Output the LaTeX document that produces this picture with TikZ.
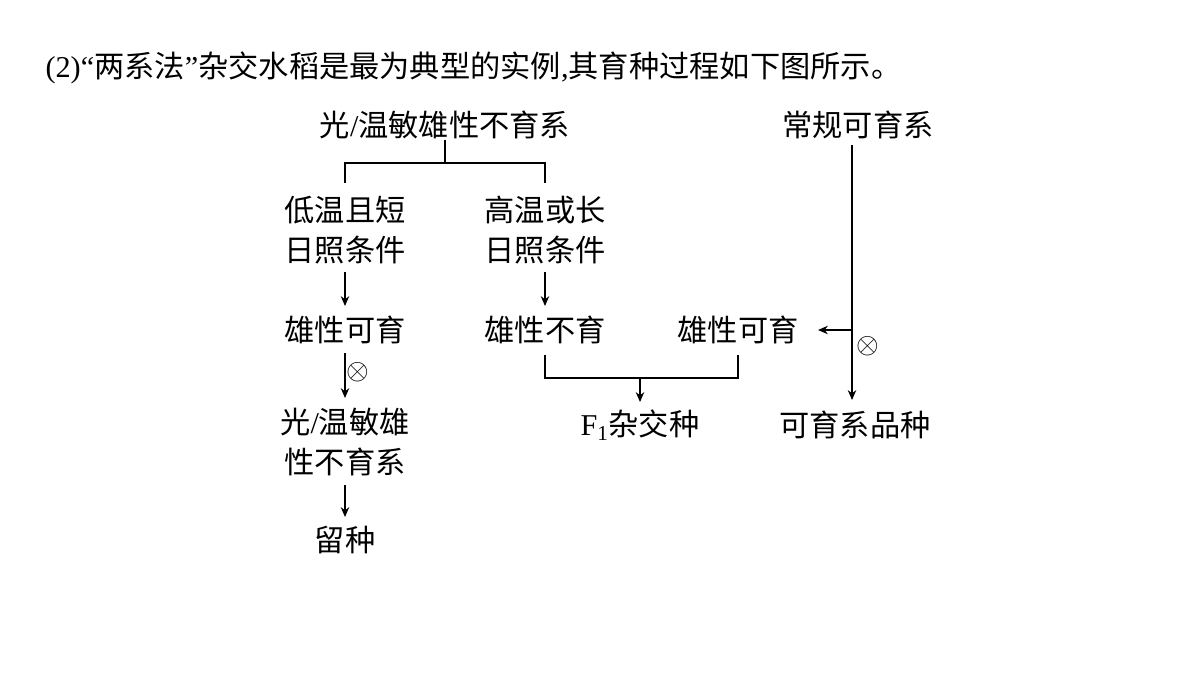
\documentclass[tikz,border=0pt]{standalone}
\usepackage{fontspec}
\setmainfont{Liberation Serif}
\newfontfamily\cjk{Noto Sans CJK SC}
\usetikzlibrary{arrows.meta,positioning}
\begin{document}
\begin{tikzpicture}
  [
  x=0.025cm, y=-0.025cm, line width=0.8pt, >={Stealth[length=7pt,width=6pt]},
  txt/.style={inner sep=0pt, font=\fontsize{21.5}{29}\selectfont\cjk, align=center},
  cross/.style={inner sep=0pt, font=\fontsize{20}{20}\selectfont}
  ]
  \useasboundingbox[fill=white] (0,0) rectangle (1200,675);

  \node[txt, anchor=west] (title) at (45,68) {{\rmfamily(2)“}两系法{\rmfamily”}杂交水稻是最为典型的实例{\rmfamily,}其育种过程如下图所示。};

  \node[txt] (ster) at (445,125) {光{\rmfamily/}温敏雄性不育系};
  \node[txt] (norm) at (858,125) {常规可育系};
  \node[txt] (low) at (345,230) {低温且短\\日照条件};
  \node[txt] (high) at (545,230) {高温或长\\日照条件};
  \node[txt] (ferL) at (345,330) {雄性可育};
  \node[txt] (sterM) at (545,330) {雄性不育};
  \node[txt] (ferR) at (738,330) {雄性可育};
  \node[txt] (keep) at (345,442) {光{\rmfamily/}温敏雄\\性不育系};
  \node[txt] (seed) at (345,540) {留种};
  \node[txt] (hyb) at (640,425) {{\rmfamily F\textsubscript{1}}杂交种};
  \node[txt] (var) at (855,425) {可育系品种};

  % bracket to the two conditions
  \draw (ster.south) -- (445,163) coordinate (top);
  \draw (345,183) |- (top) -| (545,183);
  \draw[->] (345,272) -- (345,306);
  \draw[->] (545,272) -- (545,306);
  \draw[->] (345,353) -- (345,398);
  \node[cross] (selfL) at (358,372) {$\otimes$};
  \draw[->] (345,485) -- (345,517);

  % crossing
  \draw (545,355) |- (640,378) coordinate (mid) -| (738,355);
  \draw[->] (mid) -- (640,402);

  % normal line
  \draw[->] (852,145) -- (852,400);
  \draw[->] (852,330) -- (818,330);
  \node[cross] (selfR) at (868,346) {$\otimes$};
\end{tikzpicture}
\end{document}
